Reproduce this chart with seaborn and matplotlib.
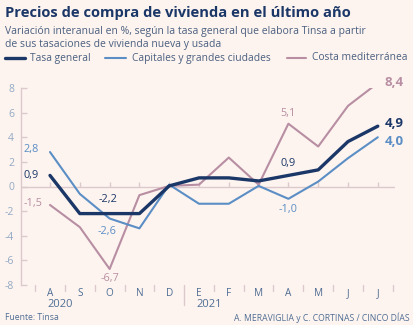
import matplotlib
matplotlib.use("Agg")
import matplotlib.pyplot as plt
import seaborn as sns
import numpy as np
import pandas as pd

# ---- data ----
months = ["A", "S", "O", "N", "D", "E", "F", "M", "A", "M", "J", "J"]
tasa_general = [0.9, -2.2, -2.2, -2.2, 0.05, 0.7, 0.7, 0.45, 0.9, 1.35, 3.65, 4.9]
capitales = [2.8, -0.6, -2.6, -3.4, 0.15, -1.4, -1.4, 0.05, -1.0, 0.4, 2.3, 4.0]
costa = [-1.5, -3.3, -6.7, -0.7, 0.05, 0.15, 2.35, 0.15, 5.1, 3.25, 6.55, 8.4]
years = ["2020", "2021"]
year_start_idx = [0, 5]
y_ticks = [-8, -6, -4, -2, 0, 2, 4, 6, 8]

title = "Precios de compra de vivienda en el último año"
subtitle = ("Variación interanual en %, según la tasa general que elabora Tinsa a partir\n"
            "de sus tasaciones de vivienda nueva y usada")
series_names = ["Tasa general", "Capitales y grandes ciudades", "Costa mediterránea"]
source = "Fuente: Tinsa"
credit = "A. MERAVIGLIA y C. CORTINAS / CINCO DÍAS"

# ---- styles ----
BG = "#fdf4ef"
NAVY = "#1b3768"
BLUE = "#5b8ec5"
MAUVE = "#b88ea3"
AXC = "#dcc9cc"
YTICK = "#93a9c4"
MONTHC = "#4f6d94"

sns.set_theme(style="white")
plt.rcParams["font.family"] = ["Open Sans", "DejaVu Sans"]

W, H = 414, 325
fig = plt.figure(figsize=(W / 100, H / 100), dpi=100, facecolor=BG)

x0, x1 = 21, 395
ytop, ybot = 88, 285
ax = fig.add_axes([x0 / W, 1 - ybot / H, (x1 - x0) / W, (ybot - ytop) / H])
ax.set_facecolor(BG)

idx = np.arange(len(months))
df = pd.DataFrame({"idx": idx, "tasa": tasa_general, "cap": capitales, "costa": costa})

sns.lineplot(data=df, x="idx", y="costa", ax=ax, color=MAUVE, linewidth=1.5, zorder=3)
sns.lineplot(data=df, x="idx", y="cap", ax=ax, color=BLUE, linewidth=1.5, zorder=4)
sns.lineplot(data=df, x="idx", y="tasa", ax=ax, color=NAVY, linewidth=2.4, zorder=5)

ax.set_xlim((x0 - 50) / 29.8, (x1 - 50) / 29.8)
ax.set_ylim(-8, 8)
ax.set_xlabel("")
ax.set_ylabel("")

for s in ["top", "right", "bottom"]:
    ax.spines[s].set_visible(False)
ax.spines["left"].set_color(AXC)
ax.spines["left"].set_linewidth(1.0)

ax.axhline(0, color=AXC, lw=1.0, zorder=1)
ax.vlines(idx, 0, 0.35, color=AXC, lw=1.0, zorder=1)

ax.set_yticks(y_ticks)
ax.set_yticklabels([str(v) for v in y_ticks], color=YTICK, fontsize=7.5)
ax.tick_params(axis="y", direction="in", length=4, width=1.0, color=AXC, pad=5, left=True)
ax.set_xticks([])

# month labels and separators below
trans = ax.get_xaxis_transform()
for i, m in enumerate(months):
    ax.text(i, -0.045, m, transform=trans, ha="center", va="center",
            color=MONTHC, fontsize=7.2, clip_on=False)
for i in range(len(months) + 1):
    xs = i - 0.5
    if xs > ax.get_xlim()[1]:
        continue
    long = (i == year_start_idx[1])
    ax.plot([xs, xs], [0, -0.03 if not long else -0.1], transform=trans,
            color=AXC, lw=1.0, clip_on=False)
for yr, si in zip(years, year_start_idx):
    ax.text(si - 0.1, -0.1, yr, transform=trans, ha="left", va="center",
            color=MONTHC, fontsize=8, clip_on=False)

# data labels
def lab(x, y, txt, color, dx=0, dy=0, bold=False, size=7.8, ha="center"):
    ax.annotate(txt, (x, y), xytext=(dx, dy), textcoords="offset pixels",
                ha=ha, va="center", color=color, fontsize=size,
                fontweight="bold" if bold else "normal", annotation_clip=False)

fmt = lambda v: f"{v:.1f}".replace(".", ",")
lab(0, tasa_general[0], fmt(tasa_general[0]), NAVY, dx=-11, dy=0, ha="right")
lab(0, capitales[0], fmt(capitales[0]), BLUE, dx=-11, dy=3, ha="right")
lab(0, costa[0], fmt(costa[0]), MAUVE, dx=-8, dy=1, ha="right")
lab(2, tasa_general[2], fmt(tasa_general[2]), NAVY, dx=-2, dy=14)
lab(2, capitales[2], fmt(capitales[2]), BLUE, dx=-3, dy=-13)
lab(2, costa[2], fmt(costa[2]), MAUVE, dx=0, dy=-10)
lab(8, costa[8], fmt(costa[8]), MAUVE, dx=0, dy=10)
lab(8, tasa_general[8], fmt(tasa_general[8]), NAVY, dx=0, dy=12)
lab(8, capitales[8], fmt(capitales[8]), BLUE, dx=0, dy=-11)
lab(11, costa[-1], fmt(costa[-1]), MAUVE, dx=7, dy=1, bold=True, size=9.5, ha="left")
lab(11, tasa_general[-1], fmt(tasa_general[-1]), NAVY, dx=7, dy=3, bold=True, size=9.5, ha="left")
lab(11, capitales[-1], fmt(capitales[-1]), BLUE, dx=7, dy=-4, bold=True, size=9.5, ha="left")

# header
fig.text(5 / W, 1 - 13 / H, title, ha="left", va="center", color=NAVY,
         fontsize=10.6, fontweight="bold")
fig.text(5 / W, 1 - 38 / H, subtitle, ha="left", va="center", color="#4a5f80",
         fontsize=7.5, linespacing=1.2)

# legend
leg_y = 1 - 58 / H
for (lx0, lx1, tx), name, col, lw in zip(
        [(5, 25, 30), (105, 126, 132), (287, 306, 312)],
        series_names, [NAVY, BLUE, MAUVE], [2.4, 1.5, 1.5]):
    fig.add_artist(plt.Line2D([lx0 / W, lx1 / W], [leg_y, leg_y], color=col, lw=lw))
    fig.text(tx / W, leg_y, name, ha="left", va="center", color="#4a5f80", fontsize=7.4)

fig.text(5 / W, 1 - 318 / H, source, ha="left", va="center", color=MONTHC, fontsize=6.2)
fig.text(410 / W, 1 - 318 / H, credit, ha="right", va="center", color=MONTHC, fontsize=6.2)

fig.savefig("out.png", dpi=100, facecolor=BG)
